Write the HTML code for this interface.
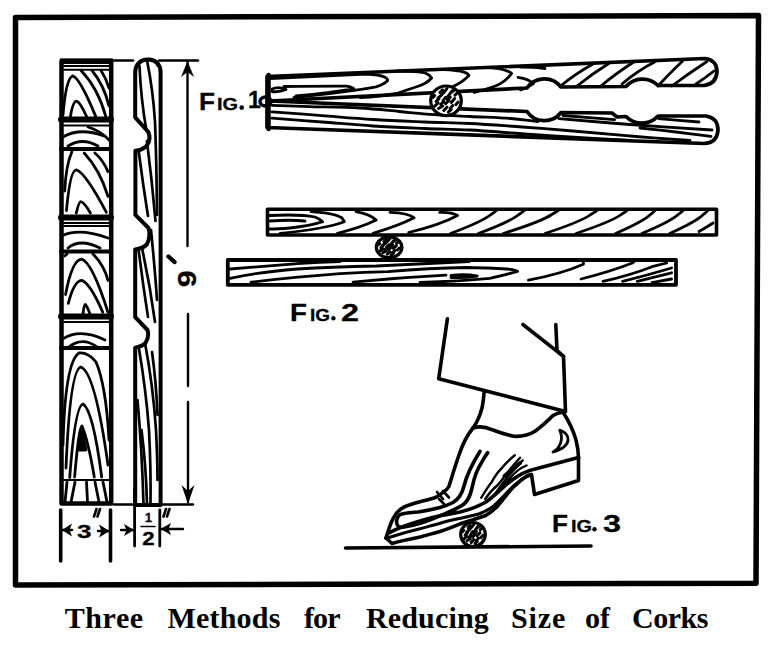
<!DOCTYPE html>
<html><head><meta charset="utf-8">
<style>
html,body{margin:0;padding:0;background:#fff;}
body{width:775px;height:650px;overflow:hidden;position:relative;}
svg{position:absolute;left:0;top:0;}
.cap{position:absolute;top:598px;font-family:"Liberation Serif",serif;font-weight:bold;font-size:30px;color:#000;white-space:nowrap;line-height:40px;}
.lb{font-family:"Liberation Sans",sans-serif;font-weight:bold;fill:#000;stroke:#000;stroke-width:0.3px;}
</style></head><body>
<svg width="775" height="650" viewBox="0 0 775 650" fill="none" stroke="#000" stroke-linecap="round" stroke-linejoin="round">
<!-- outer border -->
<polygon points="15.5,17.5 758.5,15.5 756,583.3 15.5,585" stroke-width="5.5"/>

<!-- ===== left plank ===== -->
<g id="plank">
<rect x="61.5" y="61" width="49.7" height="442.5" stroke-width="4.5"/>
<line x1="60" y1="61.3" x2="113" y2="61.3" stroke-width="5.5" stroke-linecap="butt"/>
<g stroke-width="6">
<line x1="61" y1="119.5" x2="111" y2="119.5"/>
<line x1="61" y1="217.5" x2="111" y2="217.5"/>
<line x1="61" y1="316.5" x2="111" y2="316.5"/>
</g>
<g stroke-width="4">
<line x1="61" y1="149" x2="111" y2="149"/>
<line x1="61" y1="251.5" x2="111" y2="251.5"/>
<line x1="61" y1="348" x2="111" y2="348"/>
</g>
<g stroke-width="2">
<line x1="61" y1="480" x2="111" y2="480"/>
<line x1="64" y1="66" x2="109" y2="66"/>
<line x1="64" y1="69.8" x2="109" y2="69.8"/>
<line x1="64" y1="125.5" x2="109" y2="125.5"/>
<line x1="64" y1="223" x2="109" y2="223"/>
<line x1="64" y1="226" x2="109" y2="226"/>
<line x1="64" y1="322" x2="109" y2="322"/>
</g>
<!-- grain -->
<g stroke-width="2.8">
<!-- seg A -->
<path d="M63,115 Q66,78 72.7,75.8 Q80,78 95.8,116.6"/>
<path d="M70.4,116.6 Q73,101 76.6,101.2 Q80,102 86.6,116.6"/>
<path d="M81,70.5 Q98,88 105.8,116.6"/>
<path d="M92,70.5 Q104,85 109,106"/>
<path d="M101,70.5 Q106,78 109,88"/>
<!-- seg B -->
<path d="M63,137 Q80,127 104,136"/>
<path d="M68,146 Q82,137 98,146"/>
<path d="M88,127 Q101,131 109,140"/>
<!-- seg C -->
<path d="M71.8,152 Q66,165 64.7,191"/>
<path d="M66.5,210.5 Q70,170 76.3,169.8 Q85,172 106.4,212.3"/>
<path d="M76.3,213 Q79,201.7 80.7,201.7 Q84,202 90.4,213"/>
<path d="M84.2,153 Q100,170 108,196.4"/>
<path d="M94.9,153 Q103,160 108,171.6"/>
<!-- seg D -->
<path d="M63,235.3 Q80,228 108,238"/>
<path d="M68,248 Q80,238 100,248"/>
<!-- seg E -->
<path d="M64.7,256 L67,254"/>
<path d="M65.6,294.6 Q72,260 81.6,259.2 Q92,262 108,312.3"/>
<path d="M68.3,303.4 Q74,281 81.6,280.4 Q90,283 102.8,312.3"/>
<path d="M83,314 Q84,304.3 85.1,304.3 Q87,306 90,314"/>
<path d="M93,254 Q104,265 108,280.4"/>
<!-- seg F -->
<path d="M63,338.9 Q80,328 105,340"/>
<path d="M68,347.7 Q82,336 97,347"/>
<!-- seg G -->
<path d="M63,445 Q65,362 79,353 Q88,352 96,362 Q106,385 109,440"/>
<path d="M66,468 Q70,370 80.8,367 Q95,372 108,465"/>
<path d="M69.7,477.7 Q75,406 83,404 Q93,410 101.7,477"/>
<path d="M74.6,477 Q79,426 82,426 Q88,440 94.3,477"/>
<path d="M79,450 L82,430 L86,450 Z" fill="#000"/>
<!-- seg H -->
<path d="M67,482 L65,502"/>
<path d="M75,482 L71,502"/>
<path d="M86.5,482 L87.5,502"/>
<path d="M95,482 L99,502"/>
<path d="M103,482 L107,502"/>
</g>
</g>

<!-- ===== side piece ===== -->
<path stroke-width="4" d="M135.2,505 L135.2,347.6 Q142,346.5 145.5,343 Q149.5,337 147.5,330 L135.2,317.2 L135.2,249.4 Q143,248.5 146.8,244.5 Q151,237 148.5,228 L135.4,214.9 L135.4,150.8 Q142,150 146,146.5 Q151.5,140 148.3,132 L135.2,117.4 L135.2,72 Q136,60 148,59.5 Q160,60 160.6,72 L160.6,505 Z"/>
<g stroke-width="2.7">
<path d="M147.3,62 Q153,90 155,121.8 Q156.5,160 157,215"/>
<path d="M139.5,66 Q141,100 146.5,131"/>
<path d="M138.8,152 Q143,185 148,216"/>
<path d="M146.9,141 Q152,180 155.5,221"/>
<path d="M138.8,251.5 Q143,285 148,317"/>
<path d="M142.3,249.5 Q150,285 155,322"/>
<path d="M151,230 Q155,270 157,300"/>
<path d="M139,349 Q146,390 149,430 Q151,470 150.5,504"/>
<path d="M145,343 Q153,385 156,430 Q157.5,460 157.5,480"/>
<path d="M137.5,400 Q142,450 143.5,504"/>
<path d="M141.5,430 Q146,465 147,504"/>
<path d="M152,352 Q156,380 157.5,415"/>
</g>

<!-- ===== dimension lines ===== -->
<g stroke-width="2.4">
<line x1="114" y1="60.5" x2="133" y2="60.5"/>
<line x1="159" y1="60.5" x2="198" y2="60.5"/>
<line x1="187.5" y1="62" x2="187.5" y2="246"/>
<line x1="188" y1="314" x2="188" y2="386"/>
<line x1="188" y1="402" x2="188" y2="502"/>
<line x1="114" y1="504.5" x2="133" y2="504.5"/>
<line x1="162" y1="504.5" x2="193" y2="504.5"/>
<line x1="60.7" y1="510" x2="60.7" y2="561" stroke-width="3.6"/>
<line x1="110.5" y1="510" x2="110.5" y2="561" stroke-width="3.6"/>
<line x1="134.6" y1="488" x2="134.6" y2="546" stroke-width="2.8"/>
<line x1="159.8" y1="510" x2="159.8" y2="546" stroke-width="2.8"/>
<line x1="162" y1="529" x2="183" y2="529"/>
<line x1="121" y1="530" x2="133" y2="530"/>
<line x1="62" y1="530" x2="72" y2="530"/>
<line x1="98" y1="531" x2="109" y2="531"/>
</g>
<g fill="#000" stroke="none">
<path d="M187.5,61 L181,77 L187.5,72 L194,77 Z"/>
<path d="M188,504 L181.5,485 L188,491 L194.5,485 Z"/>
<path d="M62,530 L72,523.5 L69.5,530 L72,536.5 Z"/>
<path d="M109.5,531 L99,524.5 L101.5,531 L99,537.5 Z"/>
<path d="M134,530 L124,524 L126.5,530 L124,536 Z"/>
<path d="M160.5,529 L171,523 L168.5,529 L171,535 Z"/>
</g>
<text class="lb" x="77" y="537.5" font-size="19" textLength="14.5" lengthAdjust="spacingAndGlyphs">3</text>
<path d="M96.5,509 L94,516.5 M100,509 L97.5,516.5" stroke-width="2.6"/>
<text class="lb" x="145" y="522" font-size="13" textLength="7" lengthAdjust="spacingAndGlyphs">1</text>
<line x1="141" y1="526.5" x2="155" y2="526.5" stroke-width="1.5"/>
<text class="lb" x="142.3" y="544.7" font-size="18" textLength="12.4" lengthAdjust="spacingAndGlyphs">2</text>
<path d="M166,509 L163.5,516.5 M169.5,509 L167,516.5" stroke-width="2.6"/>
<text class="lb" transform="translate(195.8,287.3) rotate(-90)" font-size="26" x="0" y="0" textLength="17" lengthAdjust="spacingAndGlyphs">9</text>
<path d="M168.5,256.5 L174.5,262" stroke-width="4.4"/>

<!-- ===== Fig 1 ===== -->
<g id="fig1" stroke-width="3.7">
<path d="M267,101 L267,76.5 L705,58.5 Q717,60 717,72 Q716,84 704,85.5 L658,85.5 A22,22 0 0 0 626,86.5 L561,87 A21,21 0 0 0 527,88 L270,101"/>
<path d="M270,101 L527,111.5 A21,21 0 0 0 561,112.5 L612,113 L617,117 L626,116.5 A22,22 0 0 0 658,116 L706,116 Q718,118 718,130 Q717,143 704,143.5 L267,127.5 L267,101"/>
</g>
<line x1="268.5" y1="75" x2="268.5" y2="129" stroke-width="4.5"/>
<g stroke-width="2.8">
<!-- upper stick grain: chevrons -->
<path d="M272,89 Q279,86 286,89.5 Q279,92.5 272,91.5"/>
<path d="M270,78.5 Q330,75.5 365.8,74 Q380,74.8 384.5,77 Q388,79 387.7,80.5 Q384,84.5 376.1,86.8 Q350,91.5 294,97.5"/>
<path d="M284,86.5 Q320,86 346.8,86.1 Q352,87 353.8,88.6 Q330,93 296,96"/>
<path d="M396.8,71 Q418,71 425.2,73 Q430,75 431.6,78 Q427,83.5 417.4,86.5 Q405,90.5 396.8,93.5 Q380,96.5 360,97.5"/>
<path d="M443.2,69.5 Q458,70 463.9,72.1 Q468,73.5 469,75.5 Q462,82.5 453.5,86.3 Q447,89 440,92"/>
<path d="M484.5,67.7 Q499,68 505.2,70.3 Q510,71.5 511.6,73.4 Q505,82.5 494.8,86.3 Q484,90 474.2,92.5"/>
<path d="M518,77.3 Q529,79 533.5,83.7 Q527,88 520.6,90"/>
<path d="M520,67 Q535,67 545,68.5"/>
<!-- right diagonals upper -->
<path d="M560.6,86 Q575,74 593,64"/>
<path d="M577,86 Q592,74 609.4,63"/>
<path d="M601,86 Q615,74 633.8,62"/>
<path d="M622,84 Q637,71 655.5,61.5"/>
<path d="M658,86 Q668,75 682.6,61"/>
<path d="M671.8,86 Q688,74 707,61.5"/>
<path d="M696,84 Q705,78 714,71"/>
<!-- lower stick grain -->
<path d="M272,105.3 C278.2,105.5 294.3,106.1 309,106.6 C323.7,107.0 345.0,107.2 360,108 C375.0,108.8 387.3,110.4 399,111.5 C410.7,112.6 418.2,113.6 430,114.4 C441.8,115.2 456.5,115.8 470,116.5 C483.5,117.2 499.7,117.6 511,118.5 C522.3,119.4 533.5,121.2 538,121.7"/>
<path d="M272,111.8 C280.3,112.4 305.2,114.3 322,115.6 C338.8,116.9 355.8,118.4 373,119.5 C390.2,120.6 408.8,121.3 425,122 C441.2,122.7 453.8,122.7 470,123.5 C486.2,124.3 504.8,125.8 522,127 C539.2,128.2 555.0,129.5 573,131 C591.0,132.5 610.5,134.4 630,136 C649.5,137.6 680.0,139.8 690,140.5"/>
<path d="M272,118.2 C280.3,118.8 305.2,120.7 322,122 C338.8,123.3 355.8,124.9 373,126 C390.2,127.1 408.8,127.8 425,128.5 C441.2,129.2 452.2,129.0 470,130 C487.8,131.0 511.3,133.1 532,134.5 C552.7,135.9 577.7,137.5 594,138.5 C610.3,139.5 624.0,140.2 630,140.5"/>
<path d="M558.8,118.6 C570.7,119.6 604.5,122.6 630,124.5 C655.5,126.4 698.3,129.1 712,130"/>
<path d="M563,115.5 C571.6,116.2 606.0,118.9 614.6,119.6"/>
<path d="M640,128 C646.0,128.7 664.2,130.6 676,132 C687.8,133.4 705.2,135.7 711,136.4"/>
<path d="M658.6,118.6 C665.3,119.2 692.3,121.4 699,122"/>
</g>
<ellipse cx="265.5" cy="101.5" rx="5.5" ry="4.5" stroke-width="3.5"/>
<ellipse cx="446.0" cy="100.8" rx="15.3" ry="14.8" fill="#fff" stroke-width="3.2"/><path d="M443.6,92.7L447.0,88.6M448.1,96.2L452.1,90.9M437.9,98.1L442.0,94.6M443.1,100.6L445.7,97.3M445.6,103.7L449.0,100.4M451.3,102.4L454.7,98.6M434.7,106.2L438.1,102.9M438.5,108.5L442.7,106.0M443.8,110.5L447.0,107.2M450.1,108.6L452.7,105.5M432.9,97.3L434.7,95.6M455.0,95.1L456.9,93.2M452.1,91.9L454.7,89.6M439.9,92.5L442.5,89.8M436.2,101.4L439.0,98.7M448.4,112.1L451.2,109.4M455.8,104.7L458.2,102.0M440.8,104.4L443.6,101.7M447.5,99.9L450.3,97.2" stroke-width="3.0"/>
<text class="lb" x="199" y="110" font-size="23" textLength="16" lengthAdjust="spacingAndGlyphs">F</text>
<text class="lb" x="217" y="110" font-size="17" textLength="21" lengthAdjust="spacingAndGlyphs">IG</text>
<circle cx="241.7" cy="107.6" r="2.3" fill="#000" stroke="none"/>
<text class="lb" x="248" y="108" font-size="23">1</text>

<!-- ===== Fig 2 ===== -->
<rect x="267.5" y="209.2" width="449" height="25.8" stroke-width="3.6"/>
<rect x="227.8" y="260" width="448.2" height="24.8" stroke-width="3.8"/>
<g stroke-width="2.8">
<!-- upper board chevrons -->
<path d="M269.3,215.5 Q300,214 315,217 Q320,219 322.7,221.7 Q310,226 290,228 Q278,229 269.3,229"/>
<path d="M270,221 Q290,219.5 305,221"/>
<path d="M311,211.6 Q335,213 342,218 L344.4,221.7 Q325,229 280,233.3"/>
<path d="M356,211.6 Q370,214 376.2,220.1 Q360,228 337.4,233.3"/>
<path d="M390,212.4 Q408,213 414.1,217.8 Q398,226 373,233.3"/>
<path d="M439.7,212.4 Q452,212 457.5,215.5 Q440,225 408.7,232.5"/>
<path d="M450.5,233.5 C469.1,226.5 484.0,220.5 491.0,214.5 Q496.0,211 497,209.8"/>
<path d="M478.4,233.5 C497.0,226.5 511.9,220.5 518.9,214.5 Q523.9,211 524.9,209.8"/>
<path d="M503.2,233.5 C525.5,226.5 543.4,220.5 551.7,214.5 Q558.0,211 559,209.8"/>
<path d="M545,233.5 C566.1,226.5 582.9,220.5 590.8,214.5 Q596.7,211 597.7,209.8"/>
<path d="M576,233.5 C596.8,226.5 613.4,220.5 621.2,214.5 Q626.9,211 627.9,209.8"/>
<path d="M615.5,233.5 C631.6,226.5 644.4,220.5 650.5,214.5 Q654.7,211 655.7,209.8"/>
<path d="M641.8,233.5 C658.5,226.5 671.9,220.5 678.2,214.5 Q682.6,211 683.6,209.8"/>
<path d="M669.7,233.5 C685.2,226.5 697.6,220.5 703.4,214.5 Q707.4,211 708.4,209.8"/>
<path d="M699,231.5 Q707,227 713,223"/>
<!-- lower board -->
<path d="M230,269 Q266.5,266 297.4,263.6 Q320,262 340,261.5"/>
<path d="M230,278.3 Q258.7,272.1 297.4,269 Q330,267 376.4,266 Q422.9,263.6 469.3,261.5"/>
<path d="M251,282.2 Q297.4,276.8 340,273.7 Q365,272 388,271.7 Q430,268 466.5,267.5 Q500,268 512,269.5 Q517,270.5 517.6,271.4 Q505,275 489.7,278.3 Q460,281 420,282.5"/>
<path d="M353,282.2 Q399.7,277.5 446,275.2"/>
<path d="M451,275.5 Q465,273.5 477.3,276 Q465,278.2 451,277.5"/>
<path d="M528.4,280.2 Q561.3,274 583.4,264.3 L583.4,261"/>
<path d="M581,279 Q610.3,271.6 632.4,263 L634.8,261"/>
<path d="M603,281.4 Q630,275.3 652,266.7 L666.7,263"/>
<path d="M622.6,281.4 Q647,275.3 671.6,268"/>
<path d="M637.3,281.4 Q657,276.5 671.6,272.8"/>
<path d="M652,282.6 L671.6,279"/>
</g>
<ellipse cx="389.1" cy="247.3" rx="12.8" ry="10.4" fill="#fff" stroke-width="3.2"/><path d="M387.1,241.6L389.9,238.8M390.9,244.1L394.2,240.3M382.3,245.4L385.8,243.0M386.7,247.1L388.8,244.9M388.8,249.3L391.6,247.0M393.5,248.4L396.3,245.7M379.7,251.1L382.5,248.8M382.8,252.7L386.3,250.9M387.3,254.1L389.9,251.8M392.6,252.7L394.7,250.6M378.2,244.8L379.7,243.6M396.6,243.3L398.3,241.9M394.2,241.0L396.4,239.4M384.0,241.5L386.1,239.6M380.9,247.7L383.2,245.8M391.1,255.2L393.5,253.3M397.3,250.0L399.3,248.1M384.7,249.8L387.1,247.9M390.4,246.7L392.7,244.8" stroke-width="3.0"/>
<text class="lb" x="290" y="320.5" font-size="24" textLength="17" lengthAdjust="spacingAndGlyphs">F</text>
<text class="lb" x="310" y="320.5" font-size="17" textLength="20" lengthAdjust="spacingAndGlyphs">IG</text>
<circle cx="333.4" cy="318.3" r="2.2" fill="#000" stroke="none"/>
<text class="lb" x="341" y="320.5" font-size="24" textLength="18" lengthAdjust="spacingAndGlyphs">2</text>

<!-- ===== Fig 3 ===== -->
<g stroke-width="3.6">
<path d="M447.4,318.7 L438.7,378.7 L565.5,411.6 L563.5,356.4 L557,350.6 L555.8,324.5"/>
<path d="M522.9,324.5 L563.5,356.4"/>
<path d="M345.5,548 L591,546" stroke-width="3.6"/>
<!-- ankle -->
<path d="M484.2,391.3 Q483.5,400 482.3,406.8 Q480.5,414 478.4,418.4 Q476,424 473,428"/>
<!-- collar -->
<path d="M473,428 Q482,425 492.3,429.8 Q503,434 513.8,436.3 Q526,437 535.4,431 Q546,423 552.6,415.8 Q557,413 563.5,412"/>
<!-- heel counter -->
<path d="M563.5,413 Q572,426 576,440 Q578.5,450 578.5,458"/>
<!-- vamp + toe outer -->
<path d="M473,428 C468,434 462,446 459,455 C455,466 451,480 448.9,486.5 C447,490 443,493 436,497.2 C430,499.5 418,502 410,504.8 C402,507 396,512 393,518.8 C390,524 388,532 386,538"/>
<!-- wingtip band / toe cap loop -->
<path d="M480,451.3 C474,461 467,474 464,486 C462,494 459,499 453,502.5 C448,505 444,506.5 440,507.5 C432,509.5 425,511 418,512 C410,512.5 403,512.5 399.5,515 C396,518 395.5,524 398.5,526.5 C400,527.5 402,527.4 404,527 C415,525.5 428,521 440,515.8 C451,511 459,508 464,504 C469,500 470.5,494 472,488 C474,478 478,468 481.3,463 C484,458 486,455 487.7,452.6"/>
<!-- lower edge of upper, continuing to heel top -->
<path d="M388,533.5 C395,529.5 406,525 420,521 C428,518.5 434,517 440,515.8 C448,514 455,513 460,512 C470,509.5 479,506 486,502 C494,496.5 502,488 510,481.5 C517,476 525,471 537,468.5 L578.5,457.5"/>
<!-- welt -->
<path d="M389,537.5 C398,534.5 410,531 420,528.7 C428,526.5 434,525 440,523.2 C448,521 455,519.5 461,518.2 C468,516.5 474,515.5 480,513.5 C486,511 490,509 493,506.5 C498,502 502,498 506,493.5 C511,488 515,484.5 519,481.5 C523,478.5 527,476 531,474.5" stroke-width="3"/>
<!-- sole bottom -->
<path d="M386,538 L392,543.5 C400,541 410,539 420,537 C428,535 434,533 440,531.5 C448,529 455,526 461,523.5 C468,521 478,518.5 485,515.8 C491,512.5 495,509 498,505.5 C503,500 505,497 508.4,492.6 C512,488 514,486 517.4,483.5 C522,479 526,476 531,474.5"/>
<!-- heel -->
<path d="M531.5,474.5 L534.5,494.5 L578.5,480.5 L578.5,457"/>
<!-- brogue W at toe cap -->
<path d="M437,492 L443,499 M443,491 L449,497.5 M439,499 L445,505" stroke-width="2.6"/>
<!-- brogue lines -->
<path d="M481.3,497.7 C486,490 490,484 491.6,482.3 C495,476 498,472 500.6,469.4 C505,464 510,459 514.8,455.2" stroke-width="2.4"/>
<path d="M485.2,499 C490,492 494,488 498,484.8 C502,480 505,476 507,473.2 C511,468 516,462 520,457.7" stroke-width="2.4"/>
<path d="M494.2,495.2 C498,490 501,485 504.5,481 C510,474 516,467 522.6,460.3" stroke-width="2.4"/>
<path d="M499.4,491.3 C503,486 506,482 509.7,478.4 C515,472 520,468 526.5,465.5" stroke-width="2.4"/>
<path d="M504.5,476 L520,463" stroke-width="4"/>
</g>
<path d="M559.7,430.2 C570,433 574,446 553,452 C562,447 563,437 559.7,430.2 Z" stroke-width="2.8"/>
<ellipse cx="473.0" cy="534.5" rx="12.3" ry="12.0" fill="#fff" stroke-width="3.2"/><path d="M471.1,527.9L473.8,524.6M474.7,530.8L477.9,526.4M466.5,532.3L469.8,529.5M470.7,534.3L472.7,531.7M472.7,536.8L475.4,534.2M477.2,535.8L480.0,532.7M464.0,538.9L466.7,536.2M467.0,540.7L470.3,538.7M471.2,542.4L473.8,539.7M476.3,540.8L478.4,538.3M462.5,531.7L463.9,530.3M480.2,529.9L481.8,528.3M477.9,527.3L480.0,525.4M468.1,527.8L470.2,525.6M465.1,535.0L467.4,532.8M475.0,543.6L477.2,541.4M480.9,537.6L482.8,535.4M468.8,537.4L471.0,535.2M474.2,533.8L476.5,531.6" stroke-width="3.0"/>
<text class="lb" x="552" y="531.5" font-size="23" textLength="16" lengthAdjust="spacingAndGlyphs">F</text>
<text class="lb" x="571" y="531.5" font-size="17" textLength="21" lengthAdjust="spacingAndGlyphs">IG</text>
<circle cx="594.5" cy="529.3" r="2.2" fill="#000" stroke="none"/>
<text class="lb" x="603" y="531.5" font-size="23" textLength="18" lengthAdjust="spacingAndGlyphs">3</text>
</svg>

<div class="cap" style="left:64.7px;letter-spacing:0.6px">Three</div>
<div class="cap" style="left:167.5px;letter-spacing:0.2px">Methods</div>
<div class="cap" style="left:304px;letter-spacing:-0.9px">for</div>
<div class="cap" style="left:365.9px;letter-spacing:0.18px">Reducing</div>
<div class="cap" style="left:511.1px;letter-spacing:0.83px">Size</div>
<div class="cap" style="left:585.1px;letter-spacing:-0.1px">of</div>
<div class="cap" style="left:632px;letter-spacing:-0.5px">Corks</div>
</body></html>
